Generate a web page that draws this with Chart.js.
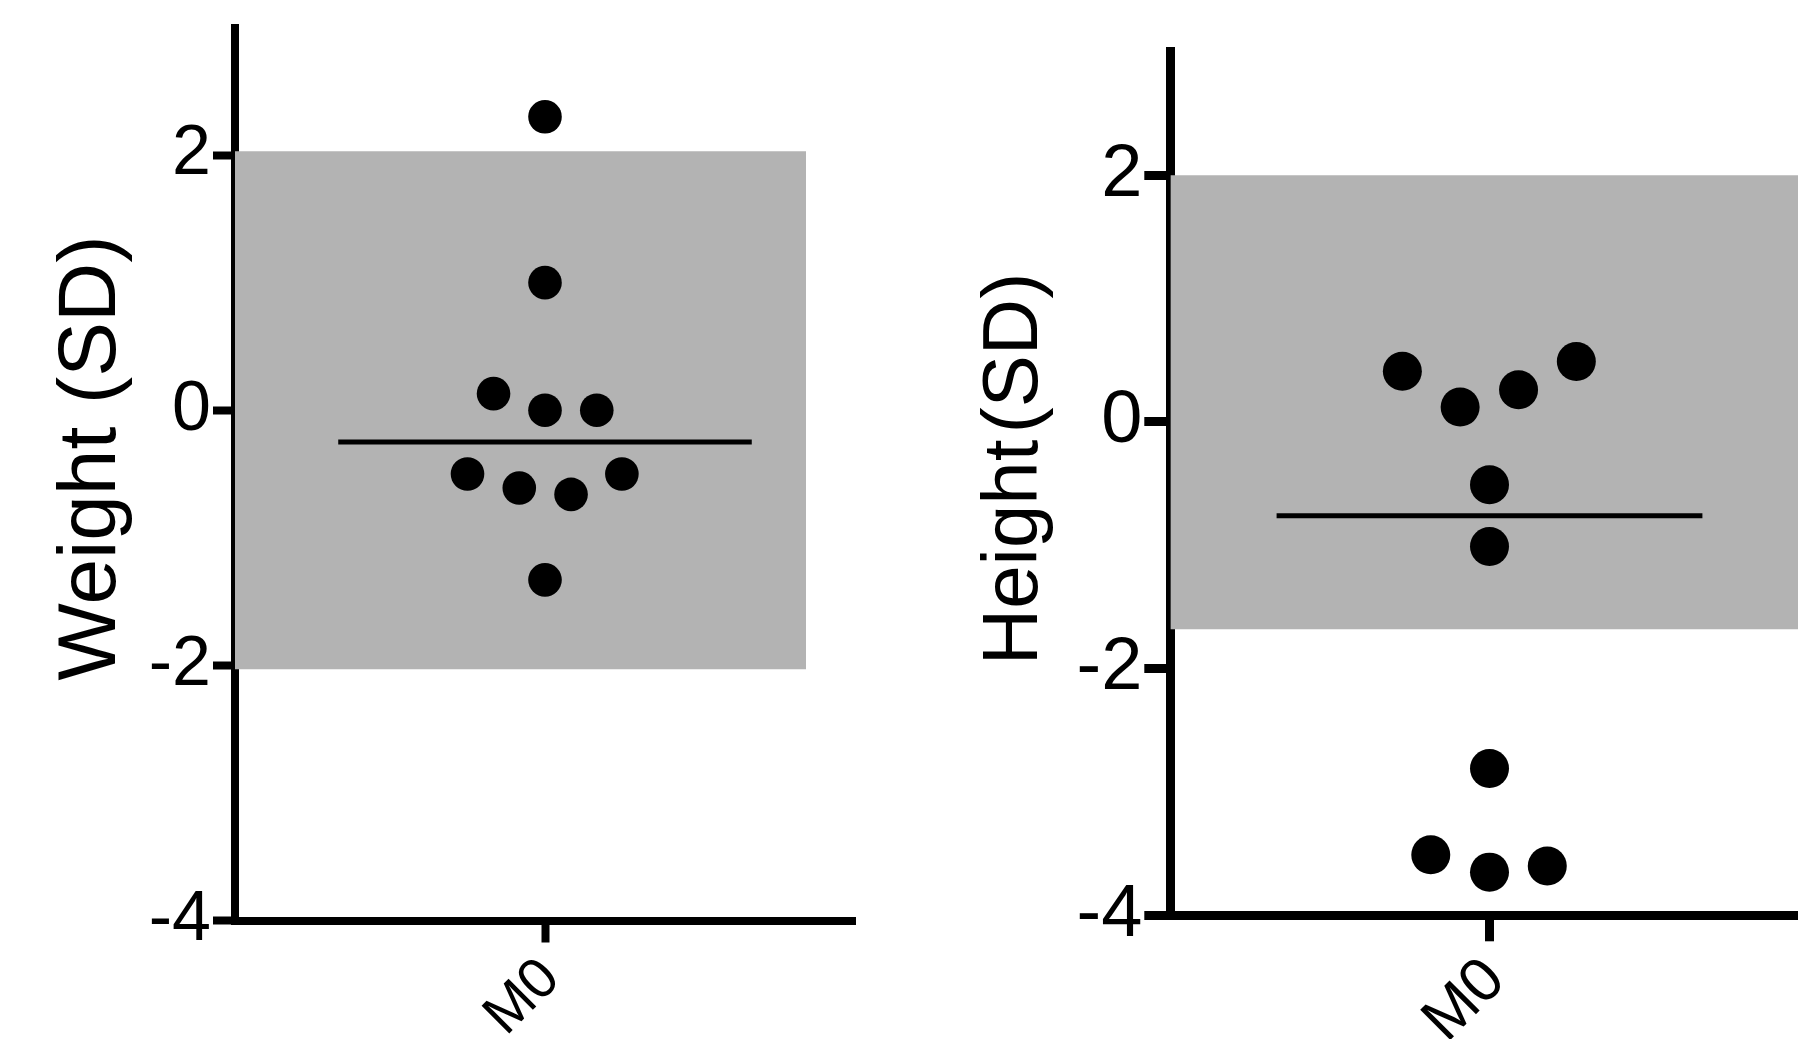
<!DOCTYPE html>
<html>
<head>
<meta charset="utf-8">
<script src="https://cdn.jsdelivr.net/npm/chart.js@4.4.1/dist/chart.umd.min.js"></script>
<style>
  html, body { margin: 0; padding: 0; background: #fff; overflow: hidden; width: 1798px; height: 1039px; }
  canvas { position: absolute; top: 0; }
  #weightChart { left: 0; }
  #heightChart { left: 900px; }
</style>
</head>
<body>
<canvas id="weightChart" width="900" height="1039"></canvas>
<canvas id="heightChart" width="960" height="1039"></canvas>
<script>
// ===== DATA =====
const categories = ['M0'];
const yTicks = [-4, -2, 0, 2];

// Weight (SD) panel
const weightValues = [2.30, 1.00, 0.13, 0.00, 0.00, -0.50, -0.61, -0.66, -0.50, -1.33];
const weightJitter = [0, 0, -0.166, 0, 0.167, -0.25, -0.083, 0.084, 0.248, 0];
const weightRange = [-2.03, 2.03];

// Height (SD) panel
const heightValues = [0.41, 0.12, 0.26, 0.49, -0.51, -1.01, -2.81, -3.51, -3.65, -3.60];
const heightJitter = [-0.273, -0.092, 0.091, 0.272, 0, 0, 0, -0.184, 0, 0.181];
const heightRange = [-1.68, 2.0];

const FONT = "'Liberation Sans', Arial, Helvetica, sans-serif";

function median(arr) {
  const s = [...arr].sort((a, b) => a - b);
  const m = Math.floor(s.length / 2);
  return s.length % 2 ? s[m] : (s[m - 1] + s[m]) / 2;
}

// rotated y-axis title, drawn a bit above the axis centre like the original
const axisTitle = {
  id: 'axisTitle',
  afterDraw(chart, args, o) {
    const ctx = chart.ctx;
    ctx.save();
    ctx.translate(o.x, o.y);
    ctx.rotate(-Math.PI / 2);
    ctx.font = o.size + 'px ' + FONT;
    ctx.fillStyle = '#000';
    ctx.textAlign = 'center';
    ctx.textBaseline = 'middle';
    ctx.fillText(o.text, 0, 0);
    ctx.restore();
  }
};

// ===== PANEL =====
function drawPanel(el, c) {
  const mid = median(c.values);
  const axisGrid = {
    drawOnChartArea: false,
    drawTicks: true,
    tickLength: c.tickLen,
    tickWidth: c.axisW,
    tickColor: '#000',
  };
  const axisBorder = { display: true, color: '#000', width: c.axisW };

  return new Chart(el, {
    type: 'scatter',
    plugins: [axisTitle],
    data: {
      datasets: [
        {
          type: 'scatter',
          data: c.values.map((v, i) => ({ x: c.jitter[i], y: v })),
          backgroundColor: '#000',
          borderWidth: 0,
          pointRadius: c.dot,
          pointHoverRadius: c.dot,
          order: 1,
        },
        {
          type: 'line',
          data: [{ x: -0.667, y: mid }, { x: 0.667, y: mid }],
          borderColor: '#000',
          borderWidth: c.lineW,
          pointRadius: 0,
          fill: false,
          order: 2,
        },
        {
          type: 'line',
          data: [{ x: -1, y: c.range[1] }, { x: c.bandEnd, y: c.range[1] }],
          borderWidth: 0,
          borderColor: 'rgba(0,0,0,0)',
          backgroundColor: '#b3b3b3',
          pointRadius: 0,
          fill: { value: c.range[0] },
          order: 3,
        },
      ]
    },
    options: {
      responsive: false,
      animation: false,
      events: [],
      layout: { padding: { top: c.top, right: c.right, left: 0, bottom: 0 } },
      plugins: {
        legend: { display: false },
        tooltip: { enabled: false },
        axisTitle: { text: c.title, size: c.titleFont, x: c.titleX, y: c.titleY },
      },
      scales: {
        x: {
          type: 'linear',
          min: -1,
          max: 1,
          z: 1,
          afterBuildTicks: (s) => { s.ticks = categories.map((_, i) => ({ value: i })); },
          afterFit: (s) => { s.height = c.xHeight; s.paddingLeft = 0; s.paddingRight = 0; },
          ticks: {
            callback: (v) => categories[v] ?? '',
            minRotation: 45,
            maxRotation: 45,
            autoSkip: false,
            padding: 3,
            labelOffset: c.xShift,
            color: '#000',
            font: { family: FONT, size: c.xFont },
          },
          grid: axisGrid,
          border: axisBorder,
        },
        y: {
          type: 'linear',
          min: -4,
          max: 3,
          z: 1,
          afterBuildTicks: (s) => { s.ticks = yTicks.map(v => ({ value: v })); },
          afterFit: (s) => { s.width = c.yWidth; s.paddingTop = 0; s.paddingBottom = 0; },
          ticks: {
            callback: (v) => String(v),
            padding: 2,
            color: '#000',
            font: { family: FONT, size: c.yFont },
          },
          grid: axisGrid,
          border: axisBorder,
        }
      }
    }
  });
}

drawPanel(document.getElementById('weightChart'), {
  values: weightValues, jitter: weightJitter, range: weightRange, bandEnd: 0.842,
  title: 'Weight (SD)', titleFont: 82, titleX: 92.5, titleY: 458,
  yFont: 70, xFont: 57, xShift: 6, tickLen: 22, axisW: 8, lineW: 5, dot: 16.8,
  yWidth: 235, top: 27.5, right: 45, xHeight: 118.5,
});

drawPanel(document.getElementById('heightChart'), {
  values: heightValues, jitter: heightJitter, range: heightRange, bandEnd: 1,
  title: 'Height\u200A(SD)', titleFont: 78, titleX: 115.7, titleY: 469,
  yFont: 74, xFont: 62, xShift: 6, tickLen: 26, axisW: 9, lineW: 5, dot: 19.5,
  yWidth: 270.3, top: 51.85, right: 51.3, xHeight: 123.7,
});
</script>
</body>
</html>
